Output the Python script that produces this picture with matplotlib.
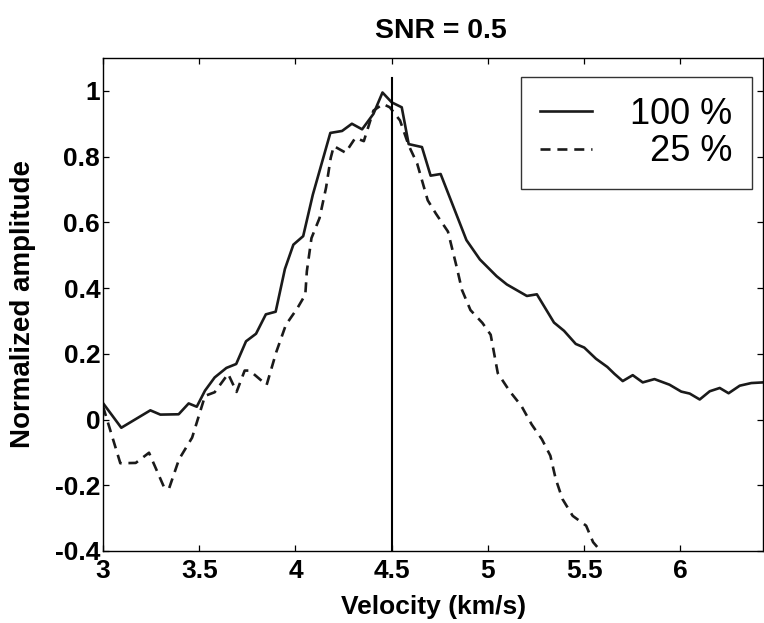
import matplotlib
matplotlib.use("Agg")
import matplotlib.pyplot as plt

# ---- data ----
v100 = [3.00, 3.095, 3.246, 3.298, 3.393, 3.445, 3.487, 3.53, 3.58, 3.641, 3.692,
        3.743, 3.795, 3.846, 3.897, 3.945, 3.989, 4.04, 4.09, 4.181, 4.242, 4.293,
        4.346, 4.405, 4.452, 4.50, 4.552, 4.588, 4.657, 4.702, 4.754, 4.834, 4.888,
        4.958, 5.045, 5.098, 5.202, 5.254, 5.343, 5.395, 5.456, 5.50, 5.561, 5.62,
        5.657, 5.70, 5.752, 5.804, 5.865, 5.943, 6.004, 6.048, 6.10, 6.152, 6.204,
        6.25, 6.308, 6.368, 6.43]
a100 = [0.05, -0.025, 0.028, 0.015, 0.016, 0.049, 0.039, 0.088, 0.128, 0.157, 0.169,
        0.238, 0.261, 0.320, 0.328, 0.458, 0.532, 0.558, 0.684, 0.872, 0.878, 0.900,
        0.883, 0.930, 0.995, 0.965, 0.950, 0.838, 0.829, 0.742, 0.747, 0.627, 0.546,
        0.487, 0.436, 0.411, 0.376, 0.381, 0.295, 0.270, 0.230, 0.219, 0.185, 0.160,
        0.139, 0.117, 0.135, 0.113, 0.123, 0.106, 0.085, 0.079, 0.061, 0.086, 0.096,
        0.080, 0.103, 0.111, 0.113]

v25 = [3.00, 3.09, 3.17, 3.239, 3.318, 3.343, 3.395, 3.463, 3.53, 3.58, 3.65, 3.694,
       3.736, 3.762, 3.85, 3.90, 3.95, 4.009, 4.051, 4.059, 4.083, 4.125, 4.159, 4.183,
       4.199, 4.26, 4.311, 4.355, 4.405, 4.455, 4.49, 4.543, 4.588, 4.632, 4.687, 4.73,
       4.792, 4.837, 4.865, 4.909, 4.971, 5.014, 5.051, 5.113, 5.174, 5.227, 5.28,
       5.324, 5.352, 5.387, 5.44, 5.51, 5.546, 5.60, 5.63]
a25 = [0.04, -0.133, -0.132, -0.101, -0.207, -0.21, -0.121, -0.055, 0.072, 0.083,
       0.139, 0.084, 0.149, 0.149, 0.105, 0.205, 0.288, 0.338, 0.380, 0.451, 0.552,
       0.613, 0.706, 0.796, 0.832, 0.812, 0.857, 0.847, 0.940, 0.960, 0.950, 0.910,
       0.834, 0.779, 0.667, 0.626, 0.572, 0.465, 0.394, 0.333, 0.294, 0.258, 0.141,
       0.086, 0.041, -0.015, -0.060, -0.110, -0.181, -0.242, -0.293, -0.323, -0.373,
       -0.41, -0.45]

true_velocity = 4.5
xticks = [3, 3.5, 4, 4.5, 5, 5.5, 6]
xticklabels = ["3", "3.5", "4", "4.5", "5", "5.5", "6"]
yticks = [-0.4, -0.2, 0, 0.2, 0.4, 0.6, 0.8, 1]
yticklabels = ["-0.4", "-0.2", "0", "0.2", "0.4", "0.6", "0.8", "1"]
labels = ["100 %", "  25 %"]
title = "SNR = 0.5"

plt.rcParams["font.family"] = ["Liberation Sans", "DejaVu Sans"]
plt.rcParams["axes.unicode_minus"] = False

fig = plt.figure(figsize=(7.64, 6.23), dpi=100)
ax = fig.add_axes([103 / 764, 1 - 551 / 623, 1 - 103 / 764 - 0.001, (551 - 58) / 623])

ax.plot(v100, a100, color="#1a1a1a", lw=1.9, label=labels[0])
ax.plot(v25, a25, color="#1a1a1a", lw=1.9, linestyle=(0, (3.8, 2.6)), label=labels[1])
ax.plot([true_velocity, true_velocity], [-0.4, 1.04], color="black", lw=1.5)

ax.set_xlim(3, 6.43)
ax.set_ylim(-0.4, 1.1)
ax.set_xticks(xticks)
ax.set_xticklabels(xticklabels, fontsize=19, fontweight="bold")
ax.set_yticks(yticks)
ax.set_yticklabels(yticklabels, fontsize=19, fontweight="bold")
ax.tick_params(direction="in", top=True, right=True, length=4, width=0.9)
ax.tick_params(axis="y", pad=2)
ax.tick_params(axis="x", pad=5.5)
for s in ax.spines.values():
    s.set_linewidth(1.0)

ax.set_xlabel("Velocity (km/s)", fontsize=19, fontweight="bold", va="center")
ax.xaxis.set_label_coords(0.5, -(607 - 551) / 493)
ax.set_ylabel("Normalized amplitude", fontsize=20, fontweight="bold", va="center")
ax.yaxis.set_label_coords(-(103 - 23) / 661, 0.5)

fig.text(441 / 764, 1 - 38 / 623, title, fontsize=20.5, fontweight="bold",
         ha="center", va="baseline")

leg = ax.legend(loc="upper right", bbox_to_anchor=(752 / 764, 1 - 77 / 623),
                bbox_transform=fig.transFigure, fontsize=26, frameon=True,
                fancybox=False, shadow=False, borderaxespad=0, borderpad=0.54,
                handlelength=1.44, handletextpad=1.05, labelspacing=0.08)
leg.get_frame().set_edgecolor("black")
leg.get_frame().set_linewidth(1.0)

fig.savefig("out.png", dpi=100)
